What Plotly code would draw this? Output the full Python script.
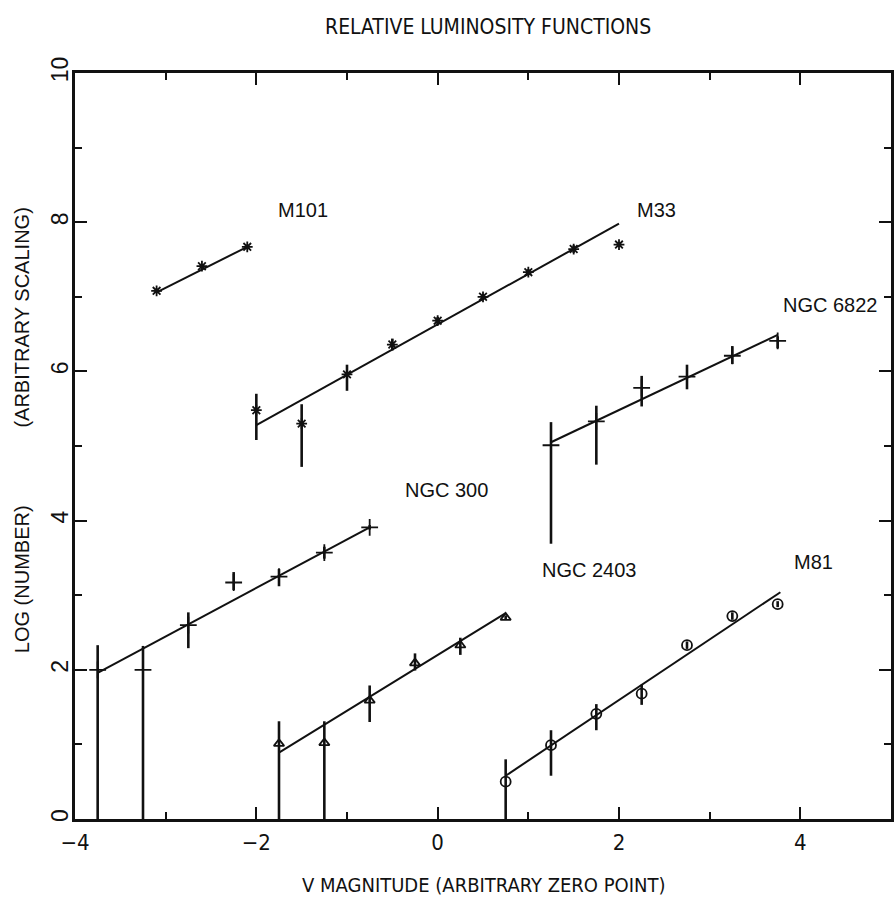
import plotly.graph_objects as go

# ---------------- data ----------------
m101_x = [-3.1, -2.6, -2.1]
m101_y = [7.08, 7.41, 7.67]
m101_fit_x = [-3.1, -2.1]
m101_fit_y = [7.06, 7.67]

m33_x = [-2.0, -1.5, -1.0, -0.5, 0.0, 0.5, 1.0, 1.5, 2.0]
m33_y = [5.48, 5.30, 5.96, 6.36, 6.68, 7.00, 7.33, 7.64, 7.70]
m33_err_plus = [0.22, 0.26, 0.13, 0.08, 0.05, 0.04, 0.04, 0.05, 0.03]
m33_err_minus = [0.40, 0.58, 0.22, 0.08, 0.05, 0.04, 0.04, 0.05, 0.03]
m33_fit_x = [-2.0, 2.0]
m33_fit_y = [5.28, 7.98]

n6822_x = [1.25, 1.75, 2.25, 2.75, 3.25, 3.75]
n6822_y = [5.01, 5.33, 5.78, 5.93, 6.21, 6.41]
n6822_err_plus = [0.31, 0.21, 0.16, 0.16, 0.13, 0.06]
n6822_err_minus = [1.32, 0.58, 0.25, 0.17, 0.11, 0.10]
n6822_fit_x = [1.25, 3.75]
n6822_fit_y = [5.05, 6.49]

n300_x = [-3.75, -3.25, -2.75, -2.25, -1.75, -1.25, -0.75]
n300_y = [2.00, 2.00, 2.60, 3.17, 3.25, 3.57, 3.91]
n300_err_plus = [0.33, 0.32, 0.17, 0.14, 0.10, 0.08, 0.03]
n300_err_minus = [2.00, 2.00, 0.31, 0.10, 0.13, 0.08, 0.03]
n300_fit_x = [-3.75, -0.75]
n300_fit_y = [1.96, 3.91]

n2403_x = [-1.75, -1.25, -0.75, -0.25, 0.25, 0.75]
n2403_y = [1.01, 1.02, 1.59, 2.09, 2.33, 2.70]
n2403_err_plus = [0.30, 0.29, 0.20, 0.13, 0.10, 0.03]
n2403_err_minus = [1.01, 1.02, 0.29, 0.10, 0.13, 0.03]
n2403_fit_x = [-1.75, 0.75]
n2403_fit_y = [0.89, 2.76]

m81_x = [0.75, 1.25, 1.75, 2.25, 2.75, 3.25, 3.75]
m81_y = [0.50, 0.99, 1.41, 1.68, 2.33, 2.72, 2.88]
m81_err_plus = [0.30, 0.20, 0.13, 0.12, 0.05, 0.05, 0.04]
m81_err_minus = [0.50, 0.41, 0.22, 0.15, 0.05, 0.05, 0.04]
m81_fit_x = [0.75, 3.78]
m81_fit_y = [0.58, 3.04]

label_text = ["M101", "M33", "NGC 6822", "NGC 300", "NGC 2403", "M81"]
label_x = [-1.49, 2.41, 4.33, 0.10, 1.68, 4.14]
label_y = [8.16, 8.16, 6.89, 4.41, 3.34, 3.44]

x_major = [-4, -2, 0, 2, 4]
x_minor = [-3, -1, 1, 3]
y_major = [0, 2, 4, 6, 8, 10]

title_text = "RELATIVE LUMINOSITY FUNCTIONS"
x_title = "V MAGNITUDE (ARBITRARY ZERO POINT)"
y_title = "LOG (NUMBER)" + "\u00a0" * 14 + "(ARBITRARY SCALING)"

# ---------------- figure ----------------
BLACK = "#111111"
NARROW = "Liberation Sans Narrow, DejaVu Sans Condensed, Arial Narrow, sans-serif"
SANS = "Liberation Sans, Arial, sans-serif"

fig = go.Figure()

def add_series(x, y, ep, em, symbol, size, fit_x, fit_y):
    fig.add_trace(go.Scatter(x=fit_x, y=fit_y, mode="lines",
                             line=dict(color=BLACK, width=2), showlegend=False,
                             hoverinfo="skip"))
    err = None
    if ep is not None:
        err = dict(type="data", symmetric=False, array=ep, arrayminus=em,
                   color=BLACK, thickness=2.6, width=0)
    fig.add_trace(go.Scatter(x=x, y=y, mode="markers",
                             marker=dict(symbol=symbol, size=size, color=BLACK,
                                         line=dict(color=BLACK, width=1.8)),
                             error_y=err, showlegend=False))

add_series(m101_x, m101_y, None, None, "asterisk-open", 9, m101_fit_x, m101_fit_y)
add_series(m33_x, m33_y, m33_err_plus, m33_err_minus, "asterisk-open", 9, m33_fit_x, m33_fit_y)
add_series(n6822_x, n6822_y, n6822_err_plus, n6822_err_minus, "cross-thin-open", 12, n6822_fit_x, n6822_fit_y)
add_series(n300_x, n300_y, n300_err_plus, n300_err_minus, "cross-thin-open", 12, n300_fit_x, n300_fit_y)
add_series(n2403_x, n2403_y, n2403_err_plus, n2403_err_minus, "triangle-up-open", 9, n2403_fit_x, n2403_fit_y)
add_series(m81_x, m81_y, m81_err_plus, m81_err_minus, "circle-open", 10, m81_fit_x, m81_fit_y)

for t, lx, ly in zip(label_text, label_x, label_y):
    fig.add_annotation(x=lx, y=ly, text=t, showarrow=False,
                       xanchor="center", yanchor="middle",
                       font=dict(family=SANS, size=20, color=BLACK))

# plot area: x 75..894, y 73..819 (pixels)
def px_to_paper_x(px):
    return (px - 75) / 819.0

def px_to_paper_y(py):
    return (819 - py) / 746.0

fig.add_annotation(xref="paper", yref="paper", x=px_to_paper_x(490), y=px_to_paper_y(27),
                   text=title_text, showarrow=False, xanchor="center", yanchor="middle",
                   font=dict(family=NARROW, size=21, color=BLACK))
fig.add_annotation(xref="paper", yref="paper", x=px_to_paper_x(486), y=px_to_paper_y(885),
                   text=x_title, showarrow=False, xanchor="center", yanchor="middle",
                   font=dict(family=NARROW, size=20, color=BLACK))
fig.add_annotation(xref="paper", yref="paper", x=px_to_paper_x(22), y=px_to_paper_y(430),
                   text=y_title, textangle=-90, showarrow=False,
                   xanchor="center", yanchor="middle",
                   font=dict(family=SANS, size=20, color=BLACK))

axis_common = dict(showgrid=False, zeroline=False, showline=True, linecolor=BLACK,
                   linewidth=2.5, mirror="ticks", ticks="inside", ticklen=12,
                   tickwidth=2, tickcolor=BLACK)

fig.update_layout(
    width=896, height=901,
    margin=dict(l=75, r=2, t=73, b=82),
    paper_bgcolor="white", plot_bgcolor="white",
    xaxis=dict(range=[-4, 5], tickmode="array", tickvals=x_major,
               ticktext=["\u22124", "\u22122", "0", "2", "4"],
               minor=dict(tickvals=x_minor, ticks="inside", ticklen=7,
                          tickwidth=2, tickcolor=BLACK),
               tickfont=dict(family=NARROW, size=22, color=BLACK),
               ticklabelstandoff=2, **axis_common),
    yaxis=dict(range=[0, 10], tickmode="array", tickvals=y_major,
               tickangle=-90,
               minor=dict(dtick=1, tick0=0, ticks="inside", ticklen=7,
                          tickwidth=2, tickcolor=BLACK),
               tickfont=dict(family=SANS, size=23, color=BLACK),
               ticklabelstandoff=-5, **axis_common),
    xaxis2=dict(range=[-4, 5], overlaying="x", side="bottom", tickmode="array",
                tickvals=x_major[1:], ticks="outside", ticklen=8, tickwidth=2,
                tickcolor=BLACK, showticklabels=False, showgrid=False,
                zeroline=False, showline=False),
    yaxis2=dict(range=[0, 10], overlaying="y", side="left", tickmode="array",
                tickvals=y_major[1:-1], ticks="outside", ticklen=8, tickwidth=2,
                tickcolor=BLACK, showticklabels=False, showgrid=False,
                zeroline=False, showline=False),
)

fig.write_html("out.html", config={"displayModeBar": False},
               post_script="document.body.style.margin='0px';")
